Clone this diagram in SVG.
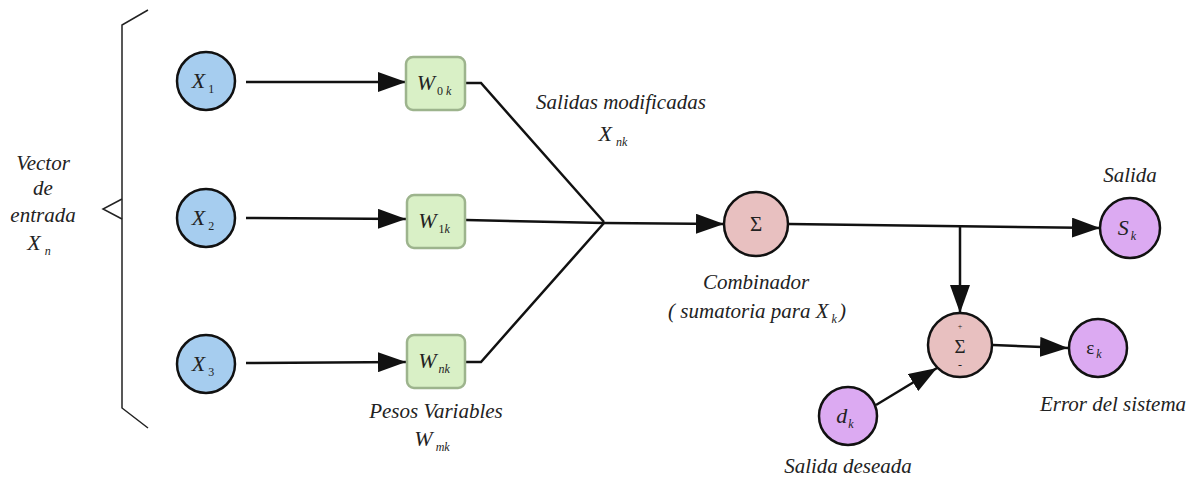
<svg xmlns="http://www.w3.org/2000/svg" width="1201" height="478" viewBox="0 0 1201 478" font-family="'Liberation Serif', 'DejaVu Serif', serif">
  <style>
    text { font-family: "Liberation Serif", "DejaVu Serif", serif; font-style: italic; fill: #222; }
    .lbl { font-size: 21px; text-anchor: middle; }
    .sym { font-size: 22px; text-anchor: middle; }
    .sub { font-size: 12px; font-style: normal; }
    .subi { font-size: 12px; font-style: italic; }
    .in { fill: #a6cdef; stroke: #111; stroke-width: 2.5; }
    .w { fill: #d9f0c6; stroke: #9db48d; stroke-width: 2.5; }
    .sum { fill: #e8c0c0; stroke: #111; stroke-width: 2.5; }
    .out { fill: #dcaaf2; stroke: #111; stroke-width: 2.5; }
    .ln { fill: none; stroke: #111; stroke-width: 2.5; }
    .br { fill: none; stroke: #222; stroke-width: 1.5; }
  </style>
  <defs>
    <marker id="arr" viewBox="0 0 28 20" refX="28" refY="10" markerWidth="28" markerHeight="20" markerUnits="userSpaceOnUse" orient="auto">
      <path d="M0,0 L28,10 L0,20 Z" fill="#111"/>
    </marker>
  </defs>
  <rect width="1201" height="478" fill="#fff"/>

  <!-- input bracket -->
  <g id="bracket">
    <path class="br" d="M148,10 L122,25 L122,408 L148,428"/>
    <path class="br" d="M122,199 L103,209 L122,219"/>
    <text class="lbl" x="43" y="170">Vector</text>
    <text class="lbl" x="43" y="195">de</text>
    <text class="lbl" x="43" y="222">entrada</text>
    <text class="sym" x="39" y="250">X<tspan class="subi" dx="4" dy="5">n</tspan></text>
  </g>

  <!-- connectors -->
  <g id="connectors">
    <line class="ln" x1="246" y1="82" x2="406" y2="82" marker-end="url(#arr)"/>
    <line class="ln" x1="246" y1="218" x2="406" y2="219" marker-end="url(#arr)"/>
    <line class="ln" x1="246" y1="363" x2="406" y2="362" marker-end="url(#arr)"/>
    <path class="ln" d="M466,83 L481,83 L604,222"/>
    <path class="ln" d="M466,220 L604,223"/>
    <path class="ln" d="M466,362 L481,362 L604,223"/>
    <line class="ln" x1="604" y1="223" x2="724" y2="224" marker-end="url(#arr)"/>
    <line class="ln" x1="789" y1="224" x2="1100" y2="228" marker-end="url(#arr)"/>
    <line class="ln" x1="960" y1="226" x2="960" y2="313" marker-end="url(#arr)"/>
    <line class="ln" x1="993" y1="345" x2="1068" y2="348" marker-end="url(#arr)"/>
    <line class="ln" x1="876" y1="405" x2="937" y2="368" marker-end="url(#arr)"/>
  </g>

  <!-- inputs -->
  <g id="x1">
    <circle class="in" cx="206" cy="81" r="29"/>
    <text class="sym" x="203" y="88">X<tspan class="sub" dx="3" dy="5">1</tspan></text>
  </g>
  <g id="x2">
    <circle class="in" cx="206" cy="218" r="29"/>
    <text class="sym" x="203" y="225">X<tspan class="sub" dx="3" dy="5">2</tspan></text>
  </g>
  <g id="x3">
    <circle class="in" cx="206" cy="364" r="29"/>
    <text class="sym" x="203" y="371">X<tspan class="sub" dx="3" dy="5">3</tspan></text>
  </g>

  <!-- weights -->
  <g id="w0k">
    <rect class="w" x="406" y="57" width="59" height="53" rx="7"/>
    <text class="sym" x="434" y="90">W<tspan class="sub" dx="2" dy="5">0 </tspan><tspan class="subi">k</tspan></text>
  </g>
  <g id="w1k">
    <rect class="w" x="407" y="195" width="58" height="53" rx="7"/>
    <text class="sym" x="434" y="228">W<tspan class="sub" dx="2" dy="5">1</tspan><tspan class="subi">k</tspan></text>
  </g>
  <g id="wnk">
    <rect class="w" x="407" y="335" width="58" height="53" rx="7"/>
    <text class="sym" x="434" y="368">W<tspan class="subi" dx="2" dy="5">nk</tspan></text>
    <text class="lbl" x="436" y="418">Pesos Variables</text>
    <text class="sym" x="432" y="446">W<tspan class="subi" dx="3" dy="5">mk</tspan></text>
  </g>

  <!-- weighted outputs label -->
  <g id="salidas-modificadas">
    <text class="lbl" x="621" y="109">Salidas modificadas</text>
    <text class="sym" x="613" y="141">X<tspan class="subi" dx="4" dy="5">nk</tspan></text>
  </g>

  <!-- combiner -->
  <g id="combinador">
    <circle class="sum" cx="756" cy="224" r="32"/>
    <text x="756" y="231" style="font-size:21px;font-style:normal;text-anchor:middle">Σ</text>
    <text class="lbl" x="756" y="289">Combinador</text>
    <text class="lbl" x="757" y="318">( sumatoria para X<tspan class="subi" dx="3" dy="5">k</tspan><tspan dx="2" dy="-5">)</tspan></text>
  </g>

  <!-- output -->
  <g id="salida">
    <circle class="out" cx="1130" cy="228" r="30"/>
    <text class="sym" x="1127" y="235">S<tspan class="subi" dx="2" dy="5">k</tspan></text>
    <text class="lbl" x="1130" y="182">Salida</text>
  </g>

  <!-- error summing junction: + on top, minus below -->
  <g id="sumador-error">
    <circle class="sum" cx="960" cy="345" r="32"/>
    <text x="960" y="329" style="font-size:8px;font-style:normal;text-anchor:middle">+</text>
    <text x="960" y="353" style="font-size:19px;font-style:normal;text-anchor:middle">Σ</text>
    <text x="960" y="369" style="font-size:12px;font-style:normal;text-anchor:middle">-</text>
  </g>

  <!-- error -->
  <g id="error">
    <circle class="out" cx="1098" cy="348" r="29"/>
    <text x="1094" y="354" style="font-size:19px;font-style:normal;text-anchor:middle">ε<tspan class="subi" dx="2" dy="4">k</tspan></text>
    <text class="lbl" x="1113" y="411">Error del sistema</text>
  </g>

  <!-- desired output -->
  <g id="salida-deseada">
    <circle class="out" cx="848" cy="416" r="29"/>
    <text class="sym" x="845" y="423">d<tspan class="subi" dx="1" dy="5">k</tspan></text>
    <text class="lbl" x="848" y="473">Salida deseada</text>
  </g>
</svg>
